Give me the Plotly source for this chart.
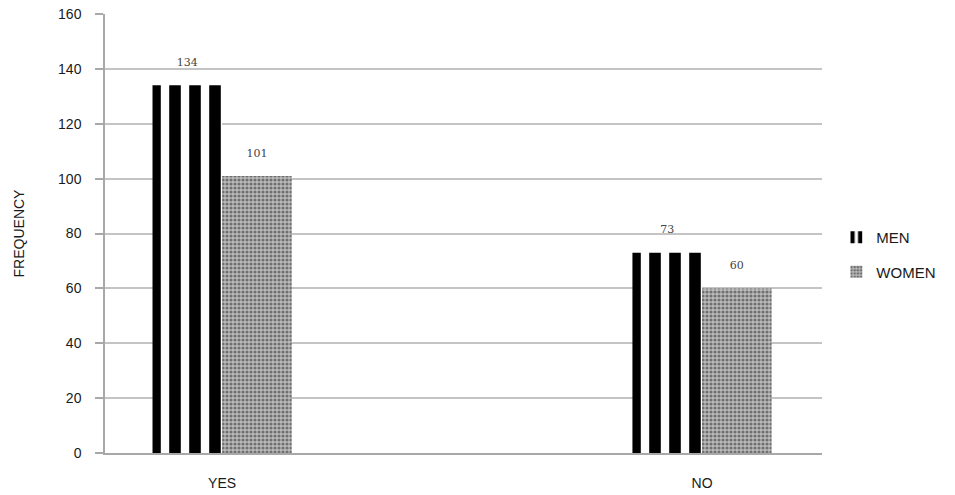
import plotly.graph_objects as go

categories = ["YES", "NO"]
men = [134, 73]
women = [101, 60]
y_ticks = [0, 20, 40, 60, 80, 100, 120, 140, 160]

label_font = dict(family="DejaVu Serif, serif", size=11, color="#444")
pad = "<br><span style='font-size:7px'>\u00a0</span>"

fig = go.Figure()
fig.add_trace(go.Bar(
    name="MEN", x=categories, y=men, legendgroup="men",
    texttemplate="%{y}" + pad, textposition="outside",
    textfont=label_font,
    marker=dict(color="white", line=dict(width=0),
                pattern=dict(shape="|", fgcolor="black", bgcolor="white",
                             size=20, solidity=0.58, fillmode="replace")),
    cliponaxis=False,
))
fig.add_trace(go.Bar(
    name="WOMEN", x=categories, y=women, legendgroup="women",
    texttemplate="%{y}" + pad, textposition="outside",
    textfont=label_font,
    marker=dict(color="#b0b0b0", line=dict(width=0),
                pattern=dict(shape=".", fgcolor="#707070", bgcolor="#bcbcbc",
                             size=4, solidity=0.5, fillmode="replace")),
    cliponaxis=False,
))

fig.update_layout(
    width=955, height=495,
    margin=dict(l=105, r=133, t=14, b=42, autoexpand=False),
    paper_bgcolor="white", plot_bgcolor="white",
    barmode="group", bargap=0.71, bargroupgap=0,
    font=dict(family="Liberation Sans, Arial, sans-serif", color="#222"),
    legend=dict(x=1.02, y=0.452, xanchor="left", yanchor="middle",
                font=dict(size=15, color="#1a1a1a", family="Liberation Sans, Arial, sans-serif"),
                itemwidth=30, tracegroupgap=12, traceorder="grouped"),
    showlegend=True,
)
fig.update_xaxes(
    type="category", range=[-0.244, 1.25], automargin=False,
    showline=True, linecolor="#a8a8a8", linewidth=2,
    ticks="", tickfont=dict(size=14, color="#1a1a1a"),
    ticklabelstandoff=16, showgrid=False,
)
fig.update_yaxes(
    range=[0, 160], tickvals=y_ticks, automargin=False,
    showline=True, linecolor="#a8a8a8", linewidth=1.5,
    ticks="outside", ticklen=8, tickcolor="#a8a8a8", tickwidth=1.5,
    showgrid=True, gridcolor="#c4c4c4", gridwidth=1.5,
    tickfont=dict(size=14, color="#1a1a1a"), ticklabelstandoff=11,
    title=dict(text="FREQUENCY", font=dict(size=14, color="#1a1a1a"), standoff=30),
    zeroline=False,
)

fig.write_html("out.html")
